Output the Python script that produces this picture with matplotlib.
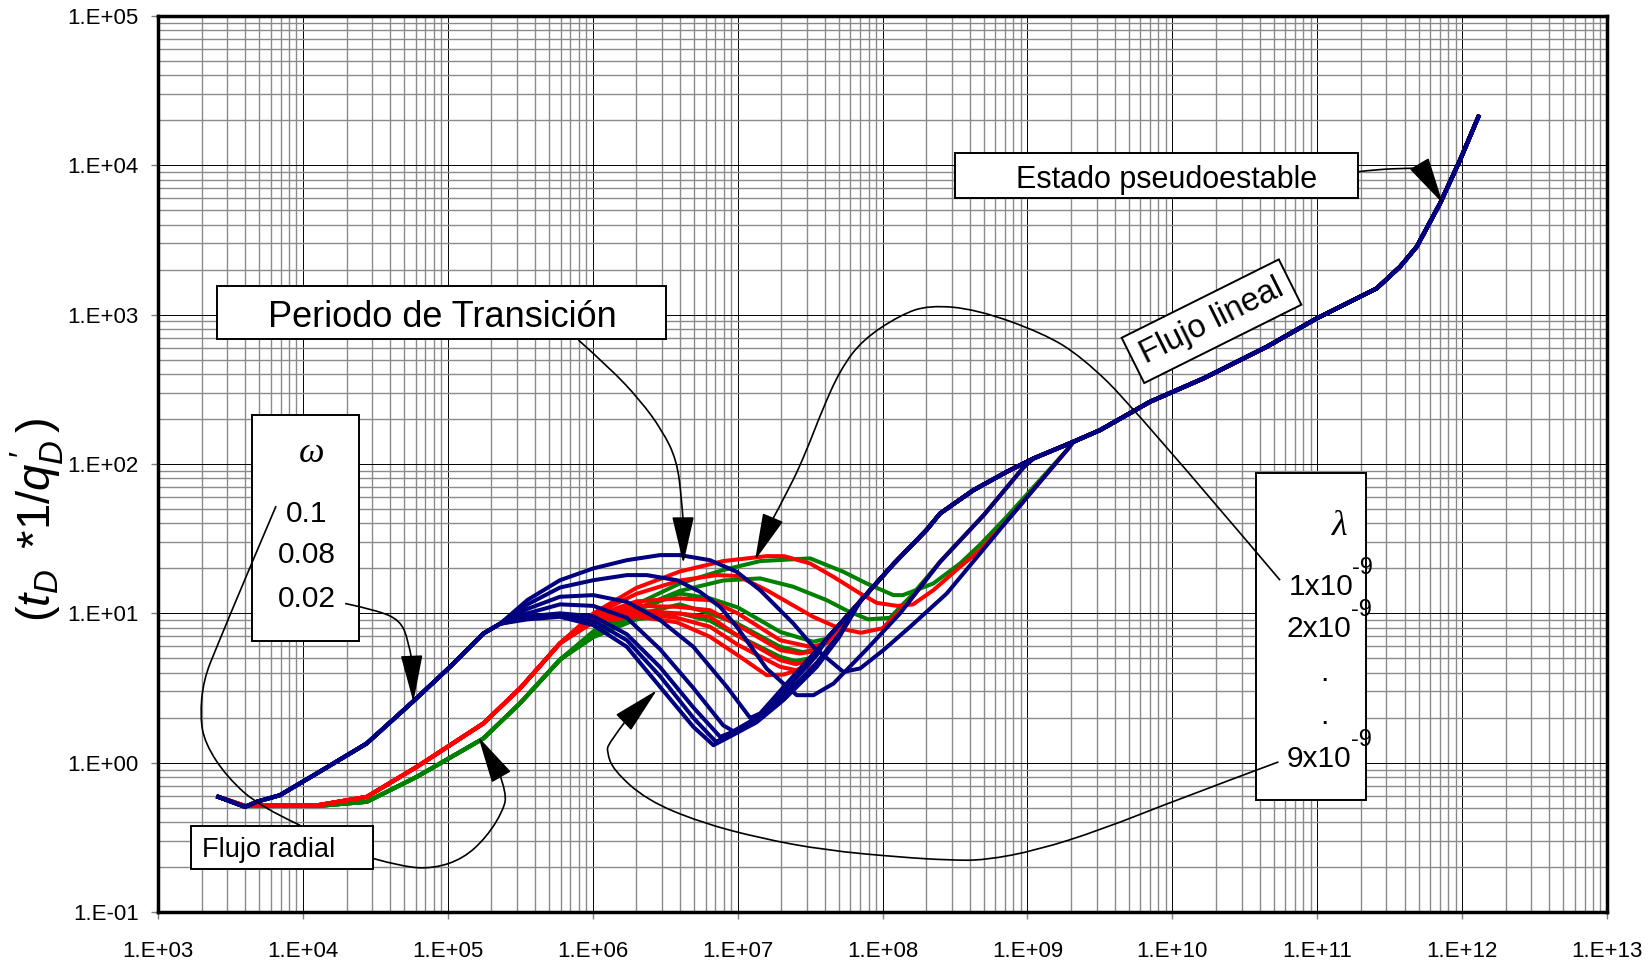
"""Curvas tipo (tD*1/qD') vs tD - periodo de transicion, doble porosidad"""

# import libraries / modules
# ========================================
import numpy as np
import matplotlib.pyplot as plt
from matplotlib.ticker import LogLocator, FixedLocator, FuncFormatter, NullFormatter
from matplotlib.patches import Rectangle, FancyArrowPatch, PathPatch
from matplotlib.path import Path

plt.rcParams['font.family'] = ['Liberation Sans', 'DejaVu Sans']
plt.rcParams['mathtext.fontset'] = 'custom'
plt.rcParams['mathtext.rm'] = 'Liberation Sans'
plt.rcParams['mathtext.it'] = 'Liberation Sans:italic'

# data, points as (log10 tD, log10 y)
# ========================================
early_blue = [(3.416, -0.229), (3.60, -0.296), (3.68, -0.262), (3.84, -0.218), (4.095, -0.072),
              (4.44, 0.129), (4.76, 0.41), (5.015, 0.642), (5.245, 0.865), (5.36, 0.93)]
early_red = [(3.416, -0.229), (3.60, -0.29), (3.85, -0.285), (4.1, -0.285), (4.44, -0.229),
             (4.785, -0.028), (5.245, 0.263), (5.5, 0.5), (5.774, 0.8)]
early_green = [(3.416, -0.229), (3.60, -0.29), (3.85, -0.29), (4.1, -0.29), (4.44, -0.262),
               (4.785, -0.095), (5.245, 0.162), (5.5, 0.4), (5.774, 0.69)]

# common late parts
bundle = [(7.155, 0.33), (7.384, 0.58), (7.615, 0.83), (7.845, 1.08), (8.075, 1.33), (8.305, 1.56)]
branch_a = [(8.397, 1.345), (8.7, 1.66), (8.972, 1.977)]
branch_b = [(8.443, 1.133), (8.86, 1.62), (9.282, 2.104)]
trunk = [(8.397, 1.669), (8.627, 1.825), (8.857, 1.948), (9.041, 2.037), (9.317, 2.149),
         (9.501, 2.227), (9.846, 2.417), (10.214, 2.573), (10.651, 2.785), (10.996, 2.975),
         (11.41, 3.176), (11.571, 3.321), (11.686, 3.455), (11.847, 3.745), (11.985, 4.035),
         (12.112, 4.326)]

# middle part of every curve
blue_1 = [(5.55, 1.09), (5.774, 1.222), (6.004, 1.301), (6.235, 1.356), (6.464, 1.39), (6.602, 1.39),
          (6.809, 1.356), (6.994, 1.278), (7.155, 1.155), (7.384, 0.932), (7.522, 0.776),
          (7.729, 0.608), (7.845, 0.631), (8.006, 0.754), (8.19, 0.91)]
blue_2 = [(5.55, 1.06), (5.774, 1.173), (6.004, 1.222), (6.235, 1.256), (6.373, 1.256), (6.58, 1.222),
          (6.74, 1.144), (6.878, 1.044), (6.994, 0.91), (7.109, 0.754), (7.2, 0.63), (7.316, 0.53),
          (7.408, 0.452), (7.523, 0.452), (7.661, 0.53), (7.891, 0.76), (8.121, 1.0)]
blue_3 = [(5.55, 1.03), (5.774, 1.111), (6.004, 1.122), (6.235, 1.077), (6.464, 0.955), (6.694, 0.776),
          (6.925, 0.508), (7.086, 0.3)]
blue_4 = [(5.55, 1.0), (5.774, 1.06), (6.004, 1.05), (6.235, 0.97), (6.464, 0.76), (6.694, 0.5),
          (6.9, 0.25), (6.99, 0.2), (7.13, 0.3), (7.316, 0.47), (7.546, 0.72)]
blue_5 = [(5.55, 0.98), (5.774, 1.0), (6.004, 0.98), (6.235, 0.86), (6.464, 0.64), (6.694, 0.37),
          (6.879, 0.173), (6.95, 0.2), (7.13, 0.3), (7.316, 0.44), (7.546, 0.67), (7.7, 0.86)]
blue_6 = [(5.55, 0.97), (5.774, 0.99), (6.004, 0.95), (6.235, 0.82), (6.464, 0.58), (6.694, 0.3),
          (6.85, 0.14), (6.947, 0.185), (7.13, 0.28), (7.316, 0.43), (7.546, 0.66), (7.7, 0.85)]
blue_7 = [(5.55, 0.96), (5.774, 0.977), (6.004, 0.921), (6.235, 0.776), (6.464, 0.508), (6.694, 0.24),
          (6.833, 0.117), (6.947, 0.175), (7.13, 0.27), (7.316, 0.419), (7.546, 0.642), (7.7, 0.84)]

red_1 = [(6.004, 1.0), (6.3, 1.17), (6.6, 1.28), (6.9, 1.35), (7.2, 1.383), (7.32, 1.383), (7.5, 1.334),
         (7.66, 1.245), (7.845, 1.133), (7.96, 1.07), (8.1, 1.05), (8.21, 1.06), (8.35, 1.155),
         (8.535, 1.312), (8.673, 1.423), (8.86, 1.62)]
red_2 = [(6.004, 0.99), (6.3, 1.13), (6.6, 1.22), (6.855, 1.256), (7.0, 1.25), (7.2, 1.155),
         (7.36, 1.066), (7.52, 0.977), (7.7, 0.9), (7.85, 0.87), (8.0, 0.9), (8.2, 1.1)]
red_3 = [(6.004, 0.98), (6.3, 1.08), (6.6, 1.10), (6.809, 1.088), (7.0, 1.0), (7.293, 0.82),
         (7.5, 0.776), (7.615, 0.8)]
red_4 = [(6.004, 0.97), (6.3, 1.05), (6.58, 1.044), (6.809, 1.021), (7.0, 0.92), (7.293, 0.754),
         (7.43, 0.731), (7.55, 0.75)]
red_5 = [(6.004, 0.96), (6.3, 1.02), (6.58, 1.0), (6.809, 0.977), (7.0, 0.85), (7.293, 0.687),
         (7.4, 0.66), (7.5, 0.68)]
red_6 = [(6.004, 0.95), (6.3, 1.0), (6.58, 0.97), (6.809, 0.91), (7.0, 0.79), (7.293, 0.642),
         (7.4, 0.62), (7.48, 0.64)]
red_7 = [(6.004, 0.94), (6.3, 0.98), (6.58, 0.94), (6.809, 0.843), (7.0, 0.72), (7.2, 0.586),
         (7.316, 0.59), (7.45, 0.63)]

green_1 = [(6.004, 0.88), (6.3, 1.06), (6.6, 1.2), (6.9, 1.29), (7.155, 1.35), (7.5, 1.368),
           (7.73, 1.278), (7.89, 1.2), (8.075, 1.122), (8.14, 1.122), (8.35, 1.2), (8.535, 1.334),
           (8.673, 1.46), (8.86, 1.65)]
green_2 = [(6.004, 0.87), (6.3, 1.03), (6.6, 1.15), (6.9, 1.22), (7.155, 1.234), (7.384, 1.178),
           (7.615, 1.088), (7.75, 1.02), (7.9, 0.96), (8.05, 0.97), (8.2, 1.12)]
green_3 = [(6.004, 0.86), (6.3, 1.02), (6.6, 1.133), (6.809, 1.1), (7.0, 1.04), (7.293, 0.876),
           (7.52, 0.81), (7.615, 0.83)]
green_4 = [(6.004, 0.85), (6.3, 0.99), (6.6, 1.06), (6.809, 1.0), (7.0, 0.93), (7.293, 0.776),
           (7.45, 0.74), (7.55, 0.76)]
green_5 = [(6.004, 0.84), (6.3, 0.96), (6.6, 1.0), (6.809, 0.95), (7.0, 0.85), (7.293, 0.709),
           (7.4, 0.68), (7.5, 0.7)]

x_ticks = [3, 4, 5, 6, 7, 8, 9, 10, 11, 12, 13]
y_ticks = [-1, 0, 1, 2, 3, 4, 5]

# annotation paths (log10 coordinates)
link_transicion = [(5.901, 2.83), (6.119, 2.642), (6.326, 2.428), (6.478, 2.227), (6.58, 2.026),
                   (6.614, 1.758), (6.623, 1.624)]
tip_transicion = (6.625, 1.334)
link_lambda_top = [(10.743, 1.222), (9.731, 2.383), (9.374, 2.718), (9.11, 2.875), (8.648, 3.036),
                   (8.319, 3.064), (8.121, 2.997), (7.859, 2.83), (7.707, 2.629), (7.583, 2.361),
                   (7.477, 2.093), (7.362, 1.845), (7.229, 1.608)]
tip_lambda_top = (7.12, 1.356)
link_omega = [(4.291, 1.066), (4.509, 1.021), (4.67, 0.954), (4.727, 0.821), (4.751, 0.687)]
tip_omega = (4.762, 0.407)
link_radial = [(3.814, 1.718), (3.635, 1.311), (3.405, 0.776), (3.313, 0.553), (3.29, 0.307),
               (3.324, 0.129), (3.474, -0.095), (3.704, -0.296), (3.98, -0.419)]
link_radial_2 = [(4.486, -0.642), (4.693, -0.698), (4.9, -0.709), (5.107, -0.642), (5.268, -0.497),
                 (5.383, -0.318), (5.406, -0.206), (5.355, -0.072)]
tip_radial_2 = (5.21, 0.173)
link_lambda_low = [(10.732, 0.005), (10.053, -0.24), (9.501, -0.452), (9.066, -0.586), (8.707, -0.653),
                   (8.466, -0.653), (8.121, -0.633), (7.603, -0.586), (7.155, -0.506), (6.741, -0.399),
                   (6.373, -0.251), (6.142, -0.05), (6.097, 0.072), (6.108, 0.129), (6.24, 0.296)]
tip_lambda_low = (6.442, 0.485)
link_estado = [(11.28, 3.957), (11.418, 3.973), (11.616, 3.98), (11.721, 3.982)]
tip_estado = (11.866, 3.745)


def build(own, head, tail):
    # join the read segments of one curve
    pts = head + own
    pts = pts + [p for p in tail if p[0] > pts[-1][0]]
    arr = np.array(pts)
    return 10 ** arr[:, 0], 10 ** arr[:, 1]


def smooth_line(ax, pts):
    # quadratic spline through the read points of a connector
    p = np.array(pts, dtype=float)
    verts = [p[0]]
    codes = [Path.MOVETO]
    if len(p) == 2:
        verts.append(p[1])
        codes.append(Path.LINETO)
    for i in range(1, len(p) - 1):
        verts += [p[i], (p[i] + p[i + 1]) / 2]
        codes += [Path.CURVE3, Path.CURVE3]
    verts[-1] = p[-1]
    patch = PathPatch(Path(10 ** np.array(verts), codes), fill=False, ec='black', lw=1.2,
                      transform=ax.transData, zorder=5)
    ax.add_patch(patch)


def arrow_head(ax, base, tip):
    ax.add_patch(FancyArrowPatch((10 ** base[0], 10 ** base[1]), (10 ** tip[0], 10 ** tip[1]),
                                 arrowstyle='-|>,head_length=30,head_width=7', mutation_scale=1,
                                 color='black', lw=1.2, shrinkA=0, shrinkB=0, zorder=5))


def box(ax, x0, x1, y0, y1):
    ax.add_patch(Rectangle((10 ** x0, 10 ** y0), 10 ** x1 - 10 ** x0, 10 ** y1 - 10 ** y0,
                           fc='white', ec='black', lw=1.4, zorder=4))


tail_bundle = bundle + trunk
tail_a = branch_a + [p for p in trunk if p[0] > branch_a[-1][0]]
tail_b = branch_b + [p for p in trunk if p[0] > branch_b[-1][0]]

greens = [(green_1, tail_b), (green_2, tail_a), (green_3, tail_bundle), (green_4, tail_bundle),
          (green_5, tail_bundle)]
reds = [(red_1, tail_b), (red_2, tail_a), (red_3, tail_bundle), (red_4, tail_bundle),
        (red_5, tail_bundle), (red_6, tail_bundle), (red_7, tail_bundle)]
blues = [(blue_7, tail_bundle), (blue_6, tail_bundle), (blue_5, tail_bundle), (blue_4, tail_bundle),
         (blue_3, tail_bundle), (blue_2, tail_a), (blue_1, tail_b)]

# Plot
# ========================================
fig = plt.figure(figsize=(16.5, 9.69), dpi=100)
ax = fig.add_axes([0.0958, 0.0588, 0.8782, 0.9247])
ax.set_xscale('log')
ax.set_yscale('log')

for own, tail in greens:
    x, y = build(own, early_green, tail)
    ax.plot(x, y, color='#008000', lw=2.9, zorder=2, solid_joinstyle='round')
for own, tail in reds:
    x, y = build(own, early_red, tail)
    ax.plot(x, y, color='#ff0000', lw=2.9, zorder=2.2, solid_joinstyle='round')
for own, tail in blues:
    x, y = build(own, early_blue, tail)
    ax.plot(x, y, color='#000080', lw=2.9, zorder=2.4, solid_joinstyle='round')

# axes, grid and ticks
ax.xaxis.set_major_locator(FixedLocator(10.0 ** np.array(x_ticks)))
ax.yaxis.set_major_locator(FixedLocator(10.0 ** np.array(y_ticks)))
ax.xaxis.set_minor_locator(LogLocator(base=10, subs=np.arange(2, 10), numticks=20))
ax.yaxis.set_minor_locator(LogLocator(base=10, subs=np.arange(2, 10), numticks=20))
fmt = FuncFormatter(lambda v, pos: '1.E%+03d' % round(np.log10(v)))
ax.xaxis.set_major_formatter(fmt)
ax.yaxis.set_major_formatter(fmt)
ax.xaxis.set_minor_formatter(NullFormatter())
ax.yaxis.set_minor_formatter(NullFormatter())
ax.set_xlim(1e3, 1e13)
ax.set_ylim(1e-1, 1e5)
ax.grid(True, which='minor', color='#8a8a8a', lw=1.0)
ax.grid(True, which='major', color='black', lw=0.7)
ax.set_axisbelow(True)
ax.tick_params(which='major', length=5, width=1, color='gray', labelsize=16)
ax.tick_params(which='minor', length=0)
ax.tick_params(axis='x', pad=16)
ax.tick_params(axis='y', pad=9)
for s in ax.spines.values():
    s.set_linewidth(2.5)
    s.set_zorder(6)

fig.text(0.0224, 0.4634, r'$(t_D\,$ *1/$q_D^{\,\prime}\,)$', rotation=90, ha='center', va='center',
         fontsize=34)

# boxes with text
box(ax, 3.406, 6.507, 2.838, 3.19)
ax.text(10 ** 4.961, 10 ** 2.919, 'Periodo de Transición', ha='center', va='baseline',
        fontsize=26, zorder=6)
box(ax, 8.5, 11.28, 3.779, 4.08)
ax.text(10 ** 9.959, 10 ** 3.846, 'Estado pseudoestable', ha='center', va='baseline',
        fontsize=22, zorder=6)
box(ax, 3.651, 4.387, 0.814, 2.328)
ax.text(10 ** 4.061, 10 ** 2.015, 'ω', ha='center', va='baseline', fontsize=26,
        family='Liberation Serif', style='italic', zorder=6)
for label, yl in zip(['0.1', '0.08', '0.02'], [1.613, 1.334, 1.043]):
    ax.text(10 ** 4.028, 10 ** yl, label, ha='center', va='baseline', fontsize=21.5, zorder=6)
box(ax, 10.576, 11.337, -0.251, 1.937)
ax.text(10 ** 11.157, 10 ** 1.524, 'λ', ha='center', va='baseline', fontsize=26,
        family='Liberation Serif', style='italic', zorder=6)
for label, xl, yl in zip(['1x10', '2x10', '9x10'], [10.80, 10.79, 10.79], [1.122, 0.843, -0.028]):
    ax.text(10 ** xl, 10 ** yl, label, ha='left', va='baseline', fontsize=21.5, zorder=6)
    ax.annotate('-9', xy=(10 ** xl, 10 ** yl), xytext=(46, 15), textcoords='offset points',
                ha='left', va='baseline', fontsize=17, zorder=6)
for yl in [0.548, 0.258]:
    ax.text(10 ** 11.047, 10 ** yl, '.', ha='center', va='baseline', fontsize=21.5, zorder=6)
box(ax, 3.226, 4.486, -0.712, -0.423)
ax.text(10 ** 3.302, 10 ** -0.631, 'Flujo radial', ha='left', va='baseline', fontsize=19.5, zorder=6)
ax.text(10 ** 10.27, 10 ** 2.956, 'Flujo lineal', rotation=26.5, rotation_mode='anchor',
        ha='center', va='center', fontsize=23.5, zorder=6,
        bbox=dict(boxstyle='square,pad=0.3', fc='white', ec='black', lw=1.4))

# connectors and arrows
smooth_line(ax, link_transicion)
arrow_head(ax, link_transicion[-1], tip_transicion)
smooth_line(ax, link_lambda_top)
arrow_head(ax, link_lambda_top[-1], tip_lambda_top)
smooth_line(ax, link_omega)
arrow_head(ax, link_omega[-1], tip_omega)
smooth_line(ax, link_radial)
smooth_line(ax, link_radial_2)
arrow_head(ax, link_radial_2[-1], tip_radial_2)
smooth_line(ax, link_lambda_low)
arrow_head(ax, link_lambda_low[-1], tip_lambda_low)
smooth_line(ax, link_estado)
arrow_head(ax, link_estado[-1], tip_estado)

fig.savefig('out.png', dpi=100)
